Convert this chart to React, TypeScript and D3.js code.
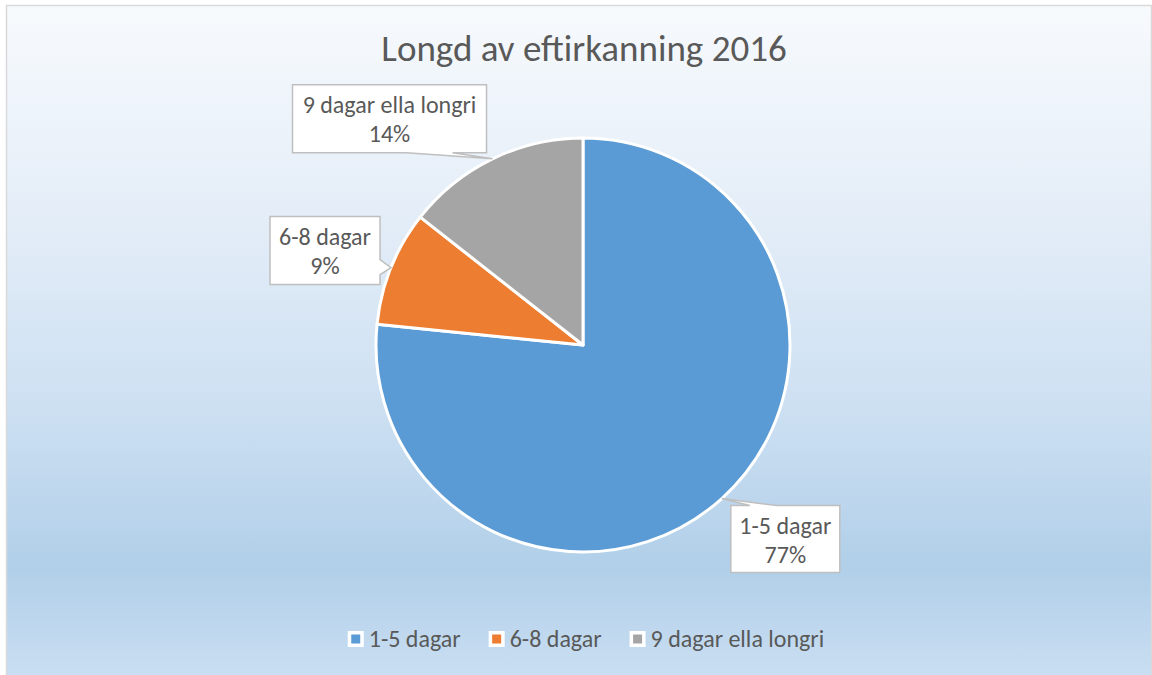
import { useEffect, useRef } from 'react';
import * as d3 from 'd3';

const title = 'Longd av eftirkanning 2016';
const categories = ['1-5 dagar', '6-8 dagar', '9 dagar ella longri'];
const values = [76.6, 9.0, 14.4];
const colors = ['#5B9BD5', '#ED7D31', '#A5A5A5'];

const W = 1152;
const H = 675;
const FONT = 'Carlito, Calibri, Lato, sans-serif';
const TEXT = '#595959';

// callout box placement relative to the pointer tip on the pie edge
const callouts = [
  { dx: 9, dy: 7, w: 109, h: 67, side: 'top', b1: 19, b2: 46 },
  { dx: -121, dy: -51, w: 110, h: 68, side: 'right', b1: 43, b2: 58 },
  { dx: -200, dy: -74, w: 194, h: 68, side: 'bottom', b1: 114, b2: 160 },
];

function calloutPath(x, y, w, h, side, b1, b2, tx, ty) {
  if (side === 'top')
    return `M${x},${y}L${x + b1},${y}L${tx},${ty}L${x + b2},${y}L${x + w},${y}L${x + w},${y + h}L${x},${y + h}Z`;
  if (side === 'right')
    return `M${x},${y}L${x + w},${y}L${x + w},${y + b1}L${tx},${ty}L${x + w},${y + b2}L${x + w},${y + h}L${x},${y + h}Z`;
  return `M${x},${y}L${x + w},${y}L${x + w},${y + h}L${x + b2},${y + h}L${tx},${ty}L${x + b1},${y + h}L${x},${y + h}Z`;
}

export default function App() {
  const svgRef = useRef(null);

  useEffect(() => {
    const svg = d3.select(svgRef.current);
    svg.selectAll('*').remove();

    const defs = svg.append('defs');
    const grad = defs.append('linearGradient')
      .attr('id', 'bg')
      .attr('gradientUnits', 'userSpaceOnUse')
      .attr('x1', 0).attr('y1', 5).attr('x2', 0).attr('y2', H);
    [
      [0, '#f7fafd'],
      [0.3, '#e5eef8'],
      [0.6, '#cde0f2'],
      [0.84, '#b1cfe9'],
      [1, '#c9def2'],
    ].forEach(([o, c]) => grad.append('stop').attr('offset', o).attr('stop-color', c));

    // chart area
    svg.append('rect')
      .attr('x', 6.5).attr('y', 5.5)
      .attr('width', W - 7).attr('height', H)
      .attr('fill', 'url(#bg)')
      .attr('stroke', '#d9d9d9')
      .attr('stroke-width', 1.5);

    // title
    svg.append('text')
      .attr('x', 584).attr('y', 61)
      .attr('text-anchor', 'middle')
      .attr('font-family', FONT)
      .attr('font-size', 37)
      .attr('fill', TEXT)
      .text(title);

    const cx = 583, cy = 345, r = 207;
    const pie = d3.pie().sort(null).value(d => d)(values);
    const arc = d3.arc().innerRadius(0).outerRadius(r);

    const g = svg.append('g').attr('transform', `translate(${cx},${cy})`);
    g.selectAll('path.slice')
      .data(pie)
      .join('path')
      .attr('class', 'slice')
      .attr('d', arc)
      .attr('fill', (d, i) => colors[i])
      .attr('stroke', '#fff')
      .attr('stroke-width', 3)
      .attr('stroke-linejoin', 'round');

    // data label callouts
    const total = d3.sum(values);
    pie.forEach((d, i) => {
      const mid = (d.startAngle + d.endAngle) / 2;
      const tx = cx + r * Math.sin(mid);
      const ty = cy - r * Math.cos(mid);
      const c = callouts[i];
      const bx = tx + c.dx, by = ty + c.dy;
      svg.append('path')
        .attr('d', calloutPath(bx, by, c.w, c.h, c.side, c.b1, c.b2, tx, ty))
        .attr('fill', '#fff')
        .attr('stroke', '#bfbfbf')
        .attr('stroke-width', 1.5);
      const t = svg.append('text')
        .attr('text-anchor', 'middle')
        .attr('font-family', FONT)
        .attr('font-size', 24)
        .attr('fill', TEXT);
      t.append('tspan').attr('x', bx + c.w / 2).attr('y', by + 28).text(categories[i]);
      t.append('tspan').attr('x', bx + c.w / 2).attr('y', by + 57)
        .text(`${Math.round((values[i] / total) * 100)}%`);
    });

    // legend
    const legend = svg.append('g');
    const items = categories.map((name, i) => {
      const item = legend.append('g');
      item.append('rect')
        .attr('x', 0).attr('y', -8)
        .attr('width', 16).attr('height', 16)
        .attr('fill', '#fff');
      item.append('rect')
        .attr('x', 3.5).attr('y', -4.5)
        .attr('width', 9).attr('height', 9)
        .attr('fill', colors[i]);
      const txt = item.append('text')
        .attr('x', 21).attr('y', 8)
        .attr('font-family', FONT)
        .attr('font-size', 24)
        .attr('fill', TEXT)
        .text(name);
      const tw = txt.node().getComputedTextLength();
      return { item, width: 21 + tw };
    });
    const gap = 28;
    const totalW = d3.sum(items, d => d.width) + gap * (items.length - 1);
    let x = 586 - totalW / 2;
    items.forEach(d => {
      d.item.attr('transform', `translate(${x},639)`);
      x += d.width + gap;
    });
  }, []);

  return (
    <svg
      ref={svgRef}
      width={W}
      height={H}
      style={{ position: 'absolute', left: 0, top: 0 }}
    />
  );
}
